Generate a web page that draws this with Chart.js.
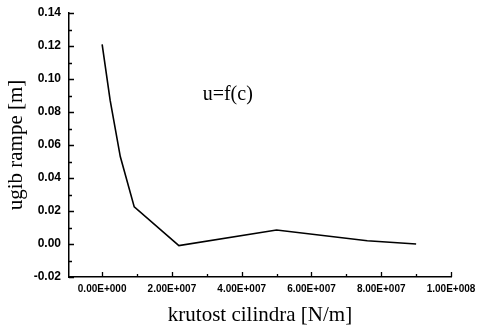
<!DOCTYPE html>
<html>
<head>
<meta charset="utf-8">
<script src="https://cdn.jsdelivr.net/npm/chart.js@4/dist/chart.umd.min.js"></script>
<style>
  html, body { margin: 0; padding: 0; background: #fff; }
  #wrap { width: 477px; height: 330px; }
</style>
</head>
<body>
<div id="wrap"><canvas id="ugibChart"></canvas></div>
<script>
// krutost cilindra [N/m] vs ugib rampe [m]
const krutost = [0, 2.3e6, 5.2e6, 9.2e6, 2.2e7, 5.0e7, 7.6e7, 9.0e7];
const ugib = [0.121, 0.087, 0.053, 0.0225, -0.001, 0.0085, 0.002, 0.0];
const xTicks = [0, 1e7, 2e7, 3e7, 4e7, 5e7, 6e7, 7e7, 8e7, 9e7, 1e8];
const yTicks = [-0.02, -0.01, 0, 0.01, 0.02, 0.03, 0.04, 0.05, 0.06, 0.07, 0.08, 0.09, 0.1, 0.11, 0.12, 0.13, 0.14];

const points = krutost.map((x, i) => ({ x: x, y: ugib[i] }));

// ticks point inwards in the original, so draw them ourselves
const inwardTicks = {
    id: 'inwardTicks',
    afterDraw(chart) {
        const c = chart.ctx;
        const xs = chart.scales.x, ys = chart.scales.y;
        const a = chart.chartArea;
        c.save();
        c.strokeStyle = '#000';
        c.lineWidth = 1.3;
        c.beginPath();
        xs.ticks.forEach((t) => {
            const px = Math.round(xs.getPixelForValue(t.value)) + 0.5;
            const len = Math.round(t.value / 1e7) % 2 === 0 ? 5 : 3;
            c.moveTo(px, a.bottom);
            c.lineTo(px, a.bottom - len);
        });
        ys.ticks.forEach((t) => {
            const py = Math.round(ys.getPixelForValue(t.value)) + 0.5;
            const len = Math.round(t.value * 100) % 2 === 0 ? 5 : 3;
            c.moveTo(a.left, py);
            c.lineTo(a.left + len, py);
        });
        c.stroke();

        c.font = '20px "Liberation Serif", "Times New Roman", serif';
        c.fillStyle = '#000';
        c.textAlign = 'center';
        c.textBaseline = 'middle';
        c.fillText('u=f(c)', xs.getPixelForValue(3.6e7), ys.getPixelForValue(0.0905));
        c.restore();
    }
};

function expLabel(v) {
    if (v === 0) return '0.00E+000';
    const e = Math.floor(Math.log10(Math.abs(v)) + 1e-9);
    const m = v / Math.pow(10, e);
    return m.toFixed(2) + 'E+' + String(e).padStart(3, '0');
}

new Chart(document.getElementById('ugibChart').getContext('2d'), {
    type: 'line',
    data: {
        datasets: [{
            label: 'u=f(c)',
            data: points,
            borderColor: '#000',
            borderWidth: 1.6,
            pointRadius: 0,
            tension: 0,
            fill: false
        }]
    },
    options: {
        responsive: true,
        maintainAspectRatio: false,
        animation: false,
        layout: { padding: { top: 13, right: 0, left: 0, bottom: 0 } },
        plugins: {
            legend: { display: false },
            tooltip: { enabled: false }
        },
        scales: {
            x: {
                type: 'linear',
                min: -0.95e7,
                max: 1e8,
                afterBuildTicks: (s) => { s.ticks = xTicks.map(v => ({ value: v })); },
                afterFit: (s) => { s.height = 53; s.paddingRight = 26; },
                border: { color: '#000', width: 1.5 },
                grid: { display: false, drawTicks: false },
                ticks: {
                    color: '#000',
                    font: { family: 'Arial, "Liberation Sans", sans-serif', size: 10, weight: 'bold' },
                    maxRotation: 0,
                    autoSkip: false,
                    padding: 6,
                    callback: (v) => (Math.round(v / 1e7) % 2 === 0 ? expLabel(v) : '')
                },
                title: {
                    display: true,
                    text: 'krutost cilindra [N/m]',
                    color: '#000',
                    font: { family: '"Liberation Serif", "Times New Roman", serif', size: 21 },
                    padding: { top: 4, bottom: 2 }
                }
            },
            y: {
                type: 'linear',
                min: -0.02,
                max: 0.14,
                afterBuildTicks: (s) => { s.ticks = yTicks.map(v => ({ value: v })); },
                afterFit: (s) => { s.width = 69; s.paddingTop = 0; s.paddingBottom = 0; },
                border: { color: '#000', width: 1.5 },
                grid: { display: false, drawTicks: false },
                ticks: {
                    color: '#000',
                    font: { family: 'Arial, "Liberation Sans", sans-serif', size: 12, weight: 'bold' },
                    autoSkip: false,
                    padding: 8,
                    callback: (v) => (Math.round(v * 100) % 2 === 0 ? v.toFixed(2) : '')
                },
                title: {
                    display: true,
                    text: 'ugib rampe [m]',
                    color: '#000',
                    font: { family: '"Liberation Serif", "Times New Roman", serif', size: 21 },
                    padding: { top: 4, bottom: 4 }
                }
            }
        }
    },
    plugins: [inwardTicks]
});
</script>
</body>
</html>
